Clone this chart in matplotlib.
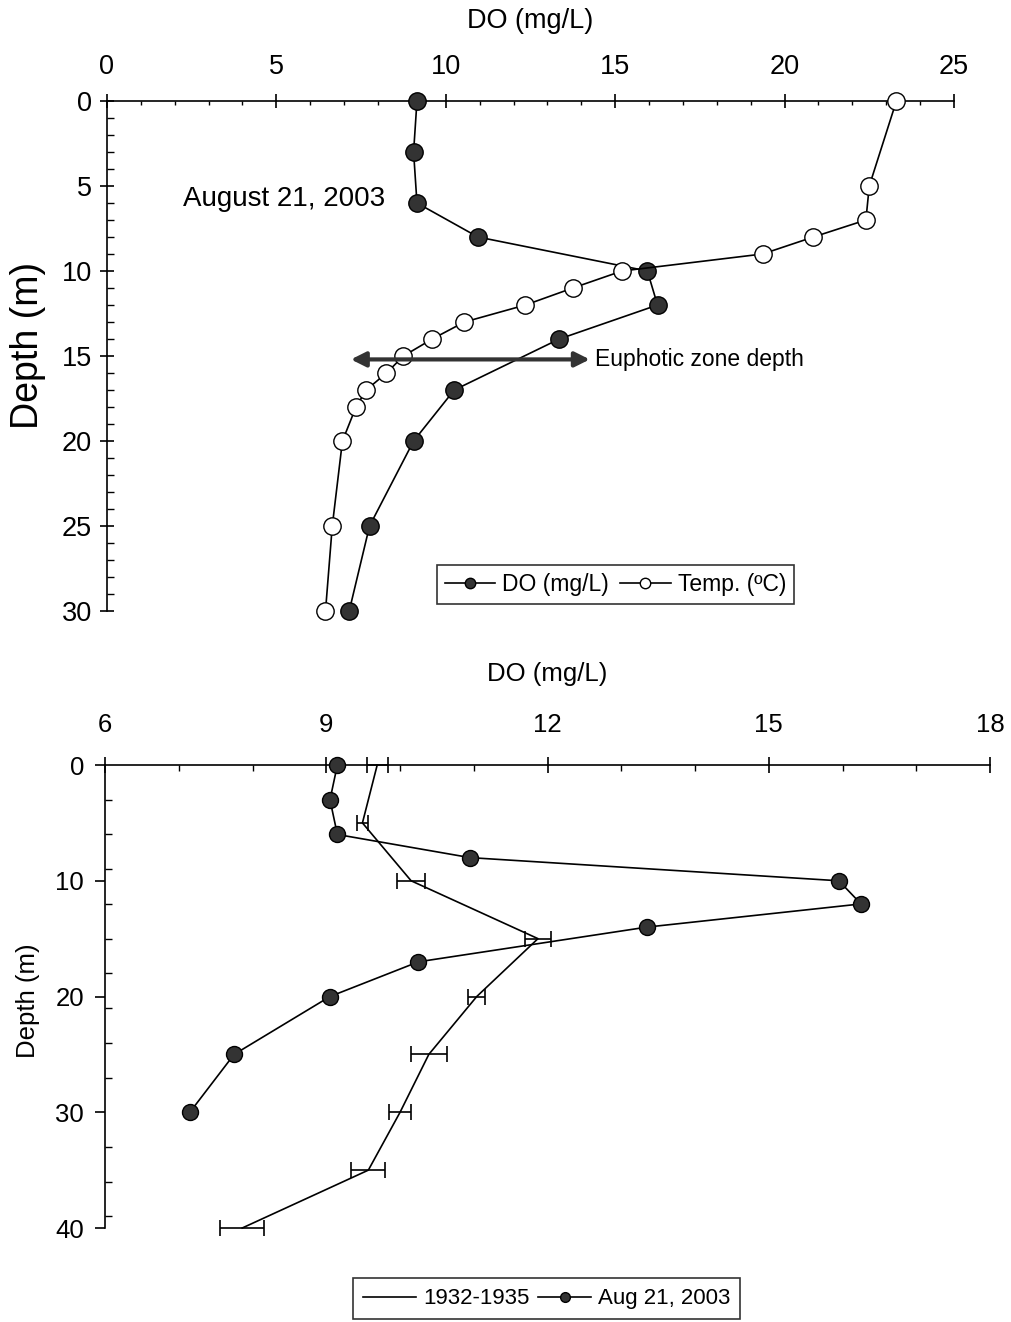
import matplotlib
matplotlib.use("Agg")
import matplotlib.pyplot as plt
from matplotlib.ticker import MultipleLocator
from matplotlib.lines import Line2D

plt.rcParams['font.family'] = ['Liberation Sans', 'DejaVu Sans']

# --- data ---
# August 21, 2003 profile
do_depth = [0, 3, 6, 8, 10, 12, 14, 17, 20, 25, 30]
do_vals = [9.15, 9.05, 9.15, 10.95, 15.95, 16.25, 13.35, 10.25, 9.05, 7.75, 7.15]

temp_depth = [0, 5, 7, 8, 9, 10, 11, 12, 13, 14, 15, 16, 17, 18, 20, 25, 30]
temp_vals = [23.3, 22.5, 22.4, 20.85, 19.35, 15.2, 13.75, 12.35, 10.55, 9.6,
             8.75, 8.25, 7.65, 7.35, 6.95, 6.65, 6.45]

# 1932-1935 mean DO with spread
hist_depth = [0, 5, 10, 15, 20, 25, 30, 35, 40]
hist_do = [9.69, 9.49, 10.15, 11.87, 11.04, 10.39, 10.0, 9.57, 7.86]
hist_err = [0.14, 0.07, 0.19, 0.17, 0.115, 0.24, 0.15, 0.23, 0.30]

euphotic_depth = 15.2
arrow_span = (7.2, 14.25)

FILL = '#333333'

fig = plt.figure(figsize=(10.11, 13.22), dpi=100)

# ---------------- top panel ----------------
ax1 = fig.add_axes([0.1058, 0.5378, 0.8378, 0.3858])
ax1.plot(do_vals, do_depth, '-o', color='black', lw=1.2, ms=12.5,
         mfc=FILL, mec='black', mew=1.0, label='DO (mg/L)', zorder=3, clip_on=False)
ax1.plot(temp_vals, temp_depth, '-o', color='black', lw=1.2, ms=12.5,
         mfc='white', mec='black', mew=1.0, label='Temp. (\u00baC)', zorder=3, clip_on=False)

ax1.set_xlim(0, 25)
ax1.set_ylim(30, 0)
ax1.xaxis.tick_top()
ax1.xaxis.set_label_position('top')
ax1.set_xlabel('DO (mg/L)', fontsize=19.5, labelpad=19)
ax1.set_ylabel('Depth (m)', fontsize=27)
ax1.yaxis.set_label_coords(-0.072, 0.52)
ax1.xaxis.set_major_locator(MultipleLocator(5))
ax1.xaxis.set_minor_locator(MultipleLocator(1))
ax1.yaxis.set_major_locator(MultipleLocator(5))
ax1.yaxis.set_minor_locator(MultipleLocator(1))
for s in ['right', 'bottom']:
    ax1.spines[s].set_visible(False)
for s in ['top', 'left']:
    ax1.spines[s].set_linewidth(1.2)
ax1.tick_params(axis='x', which='major', direction='inout', length=10, width=1.2,
                labelsize=19.5, pad=10, top=True, bottom=False)
ax1.tick_params(axis='x', which='minor', direction='in', length=3, width=1.0,
                top=True, bottom=False)
ax1.tick_params(axis='y', which='major', direction='inout', length=10, width=1.2,
                labelsize=19.5, pad=6)
ax1.tick_params(axis='y', which='minor', direction='in', length=5, width=1.0)

ax1.text(2.25, 5.75, 'August 21, 2003', fontsize=20, ha='left', va='center')
ax1.annotate('', xy=(arrow_span[0], euphotic_depth), xytext=(arrow_span[1], euphotic_depth),
             arrowprops=dict(arrowstyle='<|-|>', lw=3, color='#333333',
                             mutation_scale=22, shrinkA=0, shrinkB=0), zorder=4)
ax1.text(arrow_span[1] + 0.15, euphotic_depth, 'Euphotic zone depth', fontsize=16.5,
         ha='left', va='center')

leg1 = ax1.legend(loc='lower left', bbox_to_anchor=(0.432, 0.543),
                  bbox_transform=fig.transFigure, ncol=2, fontsize=16.5,
                  frameon=True, fancybox=False, edgecolor='black', markerscale=0.6,
                  handlelength=2.2, handletextpad=0.3, columnspacing=0.5,
                  borderpad=0.35, borderaxespad=0)
leg1.get_frame().set_linewidth(1.2)

# ---------------- bottom panel ----------------
ax2 = fig.add_axes([0.1039, 0.0711, 0.8754, 0.3502])
ax2.errorbar(hist_do, hist_depth, xerr=hist_err, fmt='none', ecolor='black',
             elinewidth=1.2, capsize=5.5, capthick=1.2, zorder=2, clip_on=False)
ax2.plot(hist_do, hist_depth, '-', color='black', lw=1.2, zorder=2, clip_on=False)
ax2.plot(do_vals, do_depth, '-o', color='black', lw=1.2, ms=11.5,
         mfc=FILL, mec='black', mew=1.0, zorder=3, clip_on=False)

ax2.set_xlim(6, 18)
ax2.set_ylim(40, 0)
ax2.xaxis.tick_top()
ax2.xaxis.set_label_position('top')
ax2.set_xlabel('DO (mg/L)', fontsize=18.5, labelpad=23)
ax2.set_ylabel('Depth (m)', fontsize=18.5)
ax2.yaxis.set_label_coords(-0.073, 0.49)
ax2.xaxis.set_major_locator(MultipleLocator(3))
ax2.xaxis.set_minor_locator(MultipleLocator(1))
ax2.yaxis.set_major_locator(MultipleLocator(10))
ax2.yaxis.set_minor_locator(MultipleLocator(3))
for s in ['right', 'bottom']:
    ax2.spines[s].set_visible(False)
for s in ['top', 'left']:
    ax2.spines[s].set_linewidth(1.2)
ax2.tick_params(axis='x', which='major', direction='inout', length=12, width=1.2,
                labelsize=18.5, pad=14, top=True, bottom=False)
ax2.tick_params(axis='x', which='minor', direction='in', length=4, width=1.0,
                top=True, bottom=False)
ax2.tick_params(axis='y', which='major', direction='out', length=7, width=1.2,
                labelsize=18.5, pad=8)
ax2.tick_params(axis='y', which='minor', direction='in', length=5, width=1.0)

handles = [Line2D([], [], color='black', lw=1.2),
           Line2D([], [], color='black', lw=1.2, marker='o', ms=7,
                  mfc=FILL, mec='black')]
leg2 = fig.legend(handles, ['1932-1935', 'Aug 21, 2003'], loc='lower left',
                  bbox_to_anchor=(0.349, 0.002), ncol=2, fontsize=16,
                  frameon=True, fancybox=False, edgecolor='black',
                  handlelength=2.4, handletextpad=0.3, columnspacing=0.4,
                  borderpad=0.45, borderaxespad=0)
leg2.get_frame().set_linewidth(1.2)

fig.savefig('out.png', dpi=100)
